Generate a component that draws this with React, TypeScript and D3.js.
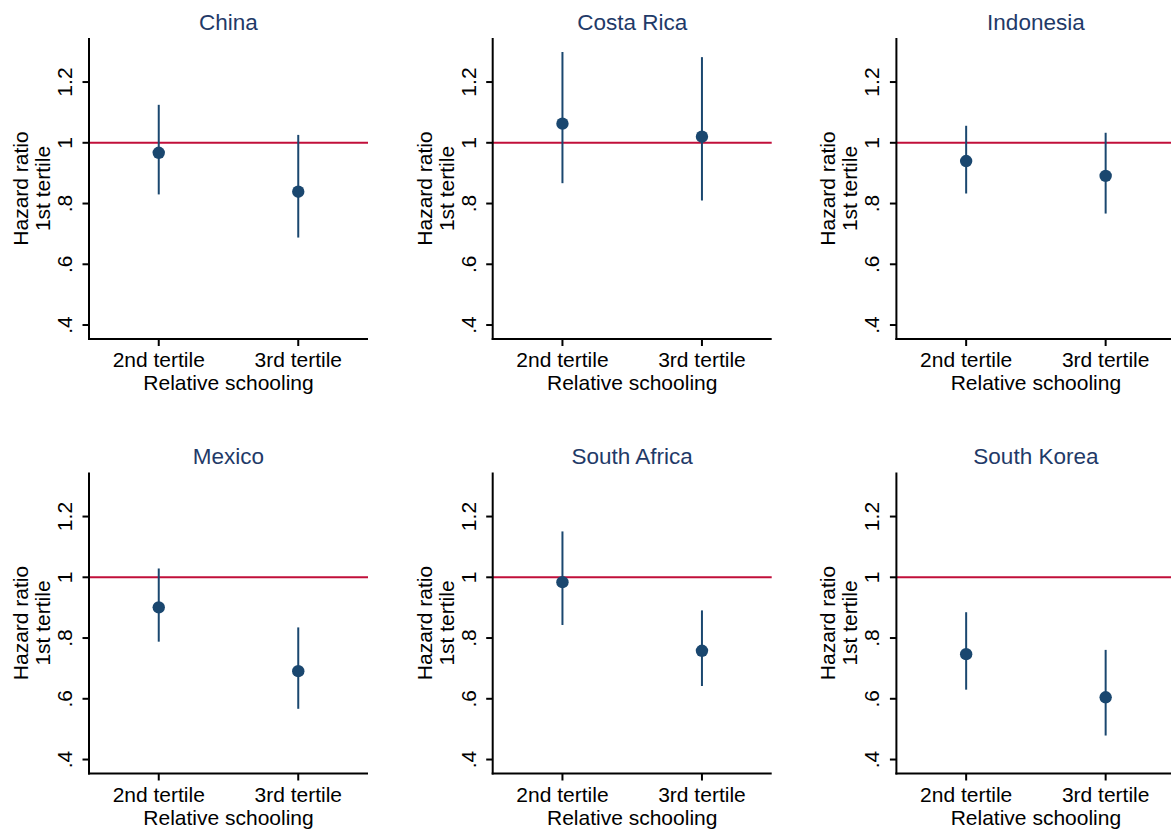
import React from "react";
import * as d3 from "d3";

const countries = ["China", "Costa Rica", "Indonesia", "Mexico", "South Africa", "South Korea"];
const categories = ["2nd tertile", "3rd tertile"];
const hr2 = [0.967, 1.063, 0.940, 0.901, 0.984, 0.747];
const lo2 = [0.830, 0.867, 0.833, 0.788, 0.843, 0.630];
const hi2 = [1.125, 1.299, 1.056, 1.029, 1.151, 0.885];
const hr3 = [0.839, 1.020, 0.891, 0.691, 0.758, 0.605];
const lo3 = [0.688, 0.810, 0.767, 0.567, 0.642, 0.479];
const hi3 = [1.026, 1.282, 1.033, 0.835, 0.891, 0.761];
const yTicks = [0.4, 0.6, 0.8, 1, 1.2];
const yTickLabels = [".4", ".6", ".8", "1", "1.2"];
const refValue = 1;

const W = 1171;
const H = 833;
const FONT = "'Liberation Sans', Arial, Helvetica, sans-serif";
const NAVY = "#1a476f";
const TITLE = "#1f3a68";
const RED = "#c10f3a";

export default function App() {
  const plotW = 279;
  const x = d3.scalePoint<string>().domain(categories).range([0, plotW]).padding(0.5);
  const y = d3.scaleLinear().domain([0.354, 1.345]).range([301, 0]);
  const colStride = 403.7;
  const rowStride = 434.5;
  const left0 = 89;
  const top0 = 38;

  return (
    <svg
      width={W}
      height={H}
      style={{ position: "absolute", left: 0, top: 0, background: "#fff" }}
      fontFamily={FONT}
    >
      <rect x={0} y={0} width={W} height={H} fill="#fff" />
      {countries.map((c, i) => {
        const col = i % 3;
        const row = Math.floor(i / 3);
        const tx = left0 + col * colStride;
        const ty = top0 + row * rowStride;
        const pts = [
          { cat: categories[0], hr: hr2[i], lo: lo2[i], hi: hi2[i] },
          { cat: categories[1], hr: hr3[i], lo: lo3[i], hi: hi3[i] },
        ];
        const [y0, y1] = y.range();
        return (
          <g key={c} transform={`translate(${tx},${ty})`}>
            <text
              x={plotW / 2}
              y={-8.5}
              textAnchor="middle"
              fontSize={22.5}
              fill={TITLE}
            >
              {c}
            </text>
            {/* reference line */}
            <line x1={0} x2={plotW} y1={y(refValue)} y2={y(refValue)} stroke={RED} strokeWidth={2} />
            {/* CI and points */}
            {pts.map((p) => (
              <g key={p.cat}>
                <line
                  x1={x(p.cat)}
                  x2={x(p.cat)}
                  y1={y(p.lo)}
                  y2={y(p.hi)}
                  stroke={NAVY}
                  strokeWidth={2}
                />
                <circle cx={x(p.cat)} cy={y(p.hr)} r={6.2} fill={NAVY} />
              </g>
            ))}
            {/* y axis */}
            <line x1={0} x2={0} y1={y1} y2={y0 + 1} stroke="#000" strokeWidth={2} />
            {yTicks.map((t, k) => (
              <g key={t} transform={`translate(0,${y(t)})`}>
                <line x1={-6.5} x2={0} stroke="#000" strokeWidth={2} />
                <text
                  transform="translate(-17,0) rotate(-90)"
                  textAnchor="middle"
                  fontSize={21}
                  fill="#000"
                >
                  {yTickLabels[k]}
                </text>
              </g>
            ))}
            <text
              transform={`translate(-61,${(y0 + y1) / 2}) rotate(-90)`}
              textAnchor="middle"
              fontSize={21}
              fill="#000"
            >
              Hazard ratio
            </text>
            <text
              transform={`translate(-39,${(y0 + y1) / 2}) rotate(-90)`}
              textAnchor="middle"
              fontSize={21}
              fill="#000"
            >
              1st tertile
            </text>
            {/* x axis */}
            <line x1={-1} x2={plotW} y1={y0} y2={y0} stroke="#000" strokeWidth={2} />
            {categories.map((cat) => (
              <g key={cat} transform={`translate(${x(cat)},${y0})`}>
                <line y1={0} y2={7} stroke="#000" strokeWidth={2} />
                <text y={28} textAnchor="middle" fontSize={21} fill="#000">
                  {cat}
                </text>
              </g>
            ))}
            <text x={plotW / 2} y={y0 + 51} textAnchor="middle" fontSize={21} fill="#000">
              Relative schooling
            </text>
          </g>
        );
      })}
    </svg>
  );
}
